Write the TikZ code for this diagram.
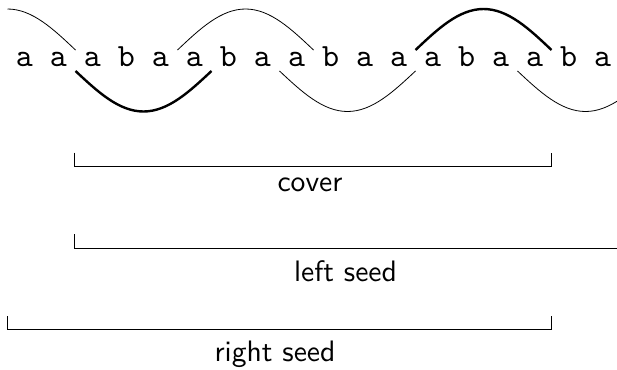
\documentclass[tikz,border=0pt]{standalone}
\begin{document}
\begin{tikzpicture}[x=1pt,y=-1pt,
  letter/.style={font=\ttfamily, scale=3.24, inner sep=0pt, anchor=base},
  lab/.style={font=\sffamily, scale=2.96, inner sep=0pt, anchor=base},
  thinwave/.style={line width=0.8pt},
  thickwave/.style={line width=2.4pt},
  bracket/.style={line width=1pt}]
\useasboundingbox (0,0) rectangle (617,369);
\foreach \c [count=\i] in {a,a,a,b,a,a,b,a,a,b,a,a,a,b,a,a,b,a}
  \node[letter] (l\i) at ({24.5+(\i-1)*34},66.7) {\c};
% waves (occurrences)
\begin{scope}
\clip (0,0) rectangle (617,369);
\draw[thinwave] (7.5,9) cos (75.5,50);
\draw[thickwave] (75.5,71) sin (143.5,111.5) cos (211.5,71);
\draw[thinwave] (177.5,50) sin (245.5,9) cos (313.5,50);
\draw[thinwave] (279.5,71) sin (347.5,111.5) cos (415.5,71);
\draw[thickwave] (415.5,50) sin (483.5,9) cos (551.5,50);
\draw[thinwave] (517.5,71) sin (585.5,111.5) cos (653.5,71);
\end{scope}
% brackets
\coordinate (cA) at (74,152.7);
\coordinate (cB) at (551,152.7);
\coordinate (lA) at (74,234);
\coordinate (lB) at (617,248.3);
\coordinate (rA) at (7,316);
\coordinate (rB) at (551,316);
\draw[bracket] (cA) |- (551,166) -- (cB);
\draw[bracket] (lA) |- (lB);
\draw[bracket] (rA) |- (551,329.3) -- (rB);
\node[lab] (cover) at (310,191) {cover};
\node[lab] (lseed) at (345.5,281.7) {left seed};
\node[lab] (rseed) at (275,361.7) {right seed};
\end{tikzpicture}
\end{document}
